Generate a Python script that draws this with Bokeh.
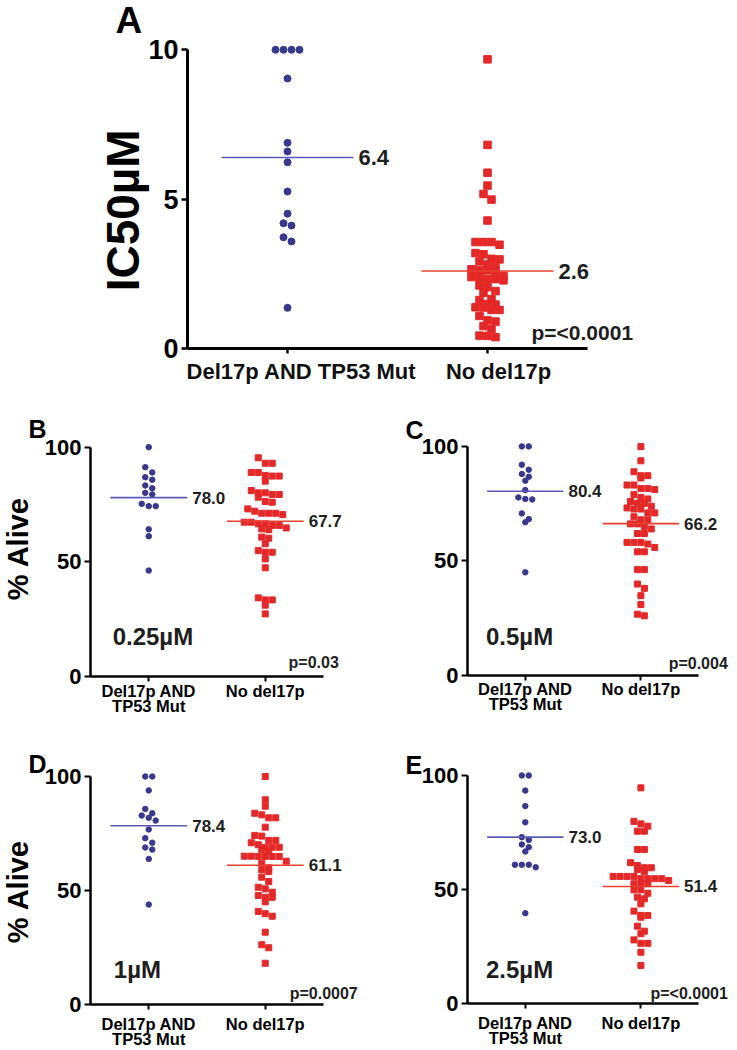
import math
from bokeh.plotting import figure
from bokeh.layouts import column, row
from bokeh.models import FixedTicker, Label
from bokeh.embed import file_html
from bokeh.resources import INLINE

FONT = "Liberation Sans"
BLUE = "#38388f"
RED = "#e42828"
BLUE_LINE = "#5a5ab6"
RED_LINE = "#e8402f"
TXT = "#1e1e1e"

categories = ["Del17p AND TP53 Mut", "No del17p"]
categories_2line = ["Del17p AND\nTP53 Mut", "No del17p"]

# Panel A: IC50 (uM)
a_del = [10, 10, 10, 10, 9.04, 6.89, 6.60, 6.24, 5.26, 4.52, 4.20, 4.12, 3.73, 3.59, 1.37]
a_no = [9.68, 6.82, 5.89, 5.46, 5.18, 4.99, 4.29, 3.57, 3.48, 3.57, 3.57, 3.20, 3.16,
        3.01, 2.92, 2.99, 2.82, 2.66, 2.62, 2.56, 2.62, 2.73, 2.40, 2.33, 2.29, 2.33,
        2.38, 2.44, 2.12, 2.06, 1.93, 1.87, 1.63, 1.66, 1.50, 1.39, 1.30, 1.30, 1.38,
        1.48, 1.10, 0.91, 0.95, 0.76, 0.66, 0.44, 0.39, 0.43]
a_means = [6.4, 2.6]
a_p = "p=<0.0001"

# Panel B: 0.25uM % alive
b_del = [100, 91.3, 89.0, 86.9, 85.8, 83.3, 82.1, 80.1, 79.4, 75.3, 74.3, 74.3, 64.2, 61.2, 46.2]
b_no = [95.4, 93.0, 93.0, 89.0, 89.0, 87.7, 87.4, 87.4, 85.2, 81.1, 80.1, 80.1, 79.4, 79.4,
        78.2, 76.3, 76.0, 73.1, 72.1, 71.2, 71.2, 71.2, 70.6, 67.3, 67.3, 66.6, 66.6, 65.9,
        65.9, 64.8, 64.4, 64.0, 60.8, 60.3, 57.9, 54.9, 54.2, 54.2, 51.3, 47.4, 34.3, 33.4,
        33.4, 31.1, 27.3]
b_means = [78.0, 67.7]
b_p = "p=0.03"
b_dose = "0.25µM"

# Panel C: 0.5uM
c_del = [100, 100, 92.0, 89.8, 87.9, 86.7, 85.0, 80.9, 77.0, 76.8, 77.7, 70.7, 68.2, 66.8, 44.9]
c_no = [99.9, 93.7, 88.9, 87.2, 87.2, 86.2, 83.1, 83.1, 81.6, 81.6, 81.1, 78.9, 77.7, 77.0,
        75.9, 75.1, 75.1, 73.8, 73.1, 72.6, 72.6, 70.9, 70.9, 69.2, 67.9, 67.9, 66.1, 66.1,
        65.0, 63.9, 61.9, 61.9, 58.0, 58.0, 58.0, 57.3, 55.8, 53.9, 53.9, 46.1, 46.1, 39.8,
        37.9, 34.7, 30.8, 26.6, 25.9]
c_means = [80.4, 66.2]
c_p = "p=0.004"
c_dose = "0.5µM"

# Panel D: 1uM
d_del = [100, 100, 93.9, 85.8, 83.9, 82.9, 81.9, 80.7, 76.8, 73.0, 71.0, 68.9, 68.0, 63.9, 43.9]
d_no = [100, 89.8, 87.0, 83.9, 83.2, 81.9, 81.9, 77.8, 74.2, 73.9, 72.0, 72.0, 71.0, 70.1,
        69.0, 69.0, 69.0, 68.0, 67.1, 65.1, 65.1, 65.0, 65.0, 65.0, 65.0, 62.9, 62.0, 60.0,
        59.1, 58.4, 55.9, 54.0, 51.5, 50.8, 49.3, 47.9, 47.1, 47.1, 45.1, 40.9, 39.9, 38.8,
        31.8, 26.3, 25.0, 18.2]
d_means = [78.4, 61.1]
d_p = "p=0.0007"
d_dose = "1µM"

# Panel E: 2.5uM
e_del = [100, 100, 93.4, 86.6, 79.5, 73.0, 71.8, 69.8, 68.6, 66.7, 60.9, 60.9, 59.8, 60.9, 39.7]
e_no = [94.6, 79.9, 78.8, 77.8, 75.6, 75.6, 67.6, 67.6, 61.8, 60.6, 59.6, 59.6, 58.8, 57.9,
        55.8, 55.8, 55.8, 55.8, 54.8, 54.8, 54.8, 54.8, 54.0, 52.6, 52.6, 52.6, 49.9, 49.9,
        48.4, 46.7, 46.0, 43.8, 40.6, 38.7, 38.7, 37.9, 34.0, 31.8, 30.7, 28.0, 26.5, 26.5,
        22.6, 16.8]
e_means = [73.0, 51.4]
e_p = "p=<0.0001"
e_dose = "2.5µM"


def swarm(vals, step, h):
    """Prism-like column scatter: values close together are spread in a centred row."""
    order = sorted(range(len(vals)), key=lambda i: -vals[i])
    groups, cur = [], []
    for i in order:
        if cur and vals[cur[0]] - vals[i] > h:
            groups.append(cur)
            cur = []
        cur.append(i)
    if cur:
        groups.append(cur)
    offs = [0.0] * len(vals)
    for g in groups:
        k = len(g)
        for j, i in enumerate(g):
            offs[i] = (j - (k - 1) / 2.0) * step
    return offs


def make_panel(box, axis_px, xs, y0_px, ys, ytop, yticks, del_vals, no_vals, means,
               cats, sizes, step, bin_h, fonts, texts, axis_w, xstand):
    fx, fy, w, h = box
    x_start = 0.5 - (axis_px - fx) / xs
    y_end = (y0_px - fy) / ys
    p = figure(width=w, height=h,
               x_range=(x_start, x_start + w / xs), y_range=(y_end - h / ys, y_end),
               output_backend="svg", toolbar_location=None, title=None,
               min_border=0)
    p.outline_line_color = None
    p.grid.visible = False
    p.background_fill_color = "white"
    p.border_fill_color = "white"

    for ax in (p.xaxis[0], p.yaxis[0]):
        ax.axis_line_width = axis_w
        ax.axis_line_color = "black"
        ax.major_tick_line_width = axis_w * 0.8
        ax.major_tick_out = 6
        ax.major_tick_in = 0
        ax.minor_tick_line_color = None
        ax.major_label_text_font = FONT
        ax.major_label_text_font_style = "bold"
        ax.major_label_text_color = "black"

    p.yaxis.fixed_location = 0.5
    p.yaxis.ticker = FixedTicker(ticks=yticks)
    p.yaxis.bounds = (0, ytop)
    p.yaxis.major_label_text_font_size = fonts["ytick"]
    p.yaxis.major_label_standoff = 3

    p.xaxis.fixed_location = 0
    p.xaxis.ticker = FixedTicker(ticks=[1, 2])
    p.xaxis.bounds = (0.5, 2.5)
    p.xaxis.major_label_overrides = {1: cats[0], 2: cats[1]}
    p.xaxis.major_label_text_font_size = fonts["xtick"]
    p.xaxis.major_tick_out = 5
    p.xaxis.major_label_standoff = xstand
    p.xaxis.major_label_text_line_height = 0.86

    dx = swarm(del_vals, step, bin_h)
    nx = swarm(no_vals, step, bin_h)
    p.scatter([1 + o for o in dx], del_vals, marker="circle", size=sizes[0],
              fill_color=BLUE, line_color=BLUE)
    p.scatter([2 + o for o in nx], no_vals, marker="square", size=sizes[1],
              fill_color=RED, line_color=RED)

    hw = 0.33
    p.segment(x0=[1 - hw], x1=[1 + hw], y0=[means[0]], y1=[means[0]],
              line_color=BLUE_LINE, line_width=1.6)
    p.segment(x0=[2 - hw], x1=[2 + hw], y0=[means[1]], y1=[means[1]],
              line_color=RED_LINE, line_width=1.6)
    for i, m in enumerate(means):
        p.add_layout(Label(x=i + 1 + hw, y=m, x_offset=5, text=f"{m:.1f}",
                           text_font=FONT, text_font_style="bold",
                           text_font_size=fonts["mean"], text_color=TXT,
                           text_align="left", text_baseline="middle"))
    for t in texts:
        x, y, s, size, col, base, ang, align = t
        p.add_layout(Label(x=x, y=y, text=s, text_font=FONT,
                           text_font_style="bold", text_font_size=size, text_color=col,
                           text_align=align, text_baseline=base, angle=ang))
    return p


V = math.pi / 2
M = "middle"

# ---- Panel A ----
pA = make_panel((0, 0, 737, 400), 187, 200, 348.3, 29.9, 10, [0, 5, 10], a_del, a_no,
                a_means, ["", ""], (7, 7.5), 0.04, 0.23,
                {"ytick": "27px", "xtick": "22px", "mean": "22px"},
                [(0.14, 10.98, "A", "37px", "black", M, 0, "left"),
                 (0.1775, 4.63, "IC50µM", "46px", "black", M, V, "center"),
                 (1.07, -0.33, categories[0], "22px", "#111111", "top", 0, "center"),
                 (2.055, -0.33, categories[1], "22px", "#111111", "top", 0, "center"),
                 (2.22, 0.53, a_p, "21px", TXT, M, 0, "left")], 3, 3)

small = {"ytick": "22px", "xtick": "16.5px", "mean": "17px"}

pB = make_panel((0, 400, 368, 345), 90, 116.5, 676, 2.293, 100, [0, 50, 100], b_del, b_no,
                b_means, categories_2line, (5.5, 6), 0.06, 2.6, small,
                [(-0.032, 107.9, "B", "25px", "black", M, 0, "left"),
                 (-0.122, 55.8, "% Alive", "29px", "black", M, V, "center"),
                 (0.69, 17.4, b_dose, "24px", TXT, M, 0, "left"),
                 (2.20, 6.1, b_p, "16px", TXT, M, 0, "left")], 2.5, 0)
pC = make_panel((368, 400, 369, 345), 467, 115.6, 674.5, 2.286, 100, [0, 50, 100], c_del,
                c_no, c_means, categories_2line, (5.5, 6), 0.06, 2.6, small,
                [(-0.036, 107.0, "C", "25px", "black", M, 0, "left"),
                 (0.66, 16.8, c_dose, "24px", TXT, M, 0, "left"),
                 (2.24, 5.0, c_p, "16px", TXT, M, 0, "left")], 2.5, 0)
pD = make_panel((0, 745, 368, 305), 90, 116.5, 1004.3, 2.283, 100, [0, 50, 100], d_del,
                d_no, d_means, categories_2line, (5.5, 6), 0.06, 2.6, small,
                [(-0.032, 105.3, "D", "25px", "black", M, 0, "left"),
                 (-0.122, 49.6, "% Alive", "29px", "black", M, V, "center"),
                 (0.70, 15.5, d_dose, "24px", TXT, M, 0, "left"),
                 (2.21, 4.9, d_p, "16px", TXT, M, 0, "left")], 2.5, 5)
pE = make_panel((368, 745, 369, 305), 467, 115.6, 1003.3, 2.283, 100, [0, 50, 100], e_del,
                e_no, e_means, categories_2line, (5.5, 6), 0.06, 2.6, small,
                [(-0.036, 104.8, "E", "25px", "black", M, 0, "left"),
                 (0.66, 15.0, e_dose, "24px", TXT, M, 0, "left"),
                 (2.083, 4.5, e_p, "16px", TXT, M, 0, "left")], 2.5, 5)

layout = column(pA, row(pB, pC), row(pD, pE))
open("out.html", "w").write(file_html(layout, INLINE))
